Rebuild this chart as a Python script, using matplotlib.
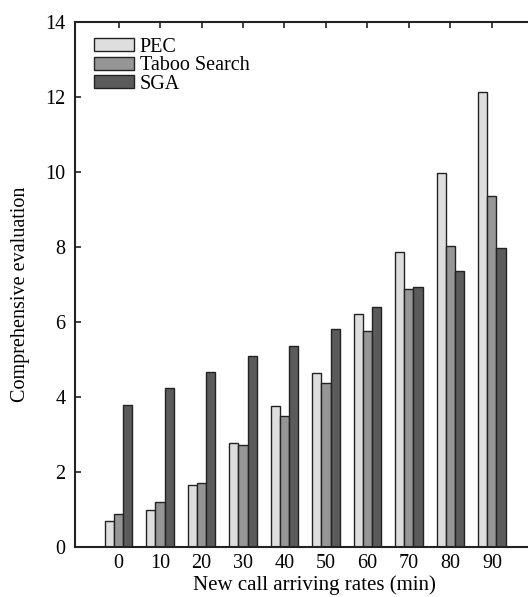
import numpy as np
import matplotlib.pyplot as plt

plt.rcParams['font.family'] = ['Liberation Serif', 'DejaVu Serif']

rates = [0, 10, 20, 30, 40, 50, 60, 70, 80, 90]
pec = [0.70, 0.99, 1.65, 2.76, 3.77, 4.65, 6.21, 7.87, 9.97, 12.14]
taboo = [0.87, 1.19, 1.71, 2.72, 3.50, 4.37, 5.77, 6.88, 8.03, 9.35]
sga = [3.79, 4.24, 4.66, 5.08, 5.36, 5.81, 6.39, 6.94, 7.36, 7.96]

fig = plt.figure(figsize=(5.28, 5.97), dpi=100)
ax = fig.add_axes([0.142, 0.084, 0.858, 0.879])

x = np.array(rates, dtype=float)
w = 2.2
series = [('PEC', pec, '#dedede'), ('Taboo Search', taboo, '#969696'), ('SGA', sga, '#5b5b5b')]
for i, (name, vals, col) in enumerate(series):
    ax.bar(x + (i - 1) * w, vals, width=w, color=col, edgecolor='#222222', linewidth=1.0, label=name)

ax.set_xlim(-10.5, 98.7)
ax.set_ylim(0, 14)
ax.set_xticks(rates)
ax.set_yticks(range(0, 15, 2))
ax.spines['right'].set_visible(False)
for s in ['left', 'bottom', 'top']:
    ax.spines[s].set_linewidth(1.5)
    ax.spines[s].set_color('#222222')
ax.tick_params(direction='in', top=True, right=False, labelsize=14.5, length=4, width=1.2, color='#222222')
ax.tick_params(axis='x', bottom=False, pad=5)
ax.tick_params(axis='y', pad=7)

ax.set_xlabel('New call arriving rates (min)', fontsize=15)
ax.xaxis.set_label_coords(0.528, -0.055, transform=ax.transAxes)
ax.xaxis.label.set_va('top')
ax.set_ylabel('Comprehensive evaluation', fontsize=14.5)
ax.yaxis.set_label_coords(-0.100, 0.482)

ax.legend(loc='upper left', frameon=False, fontsize=14.5, handlelength=2.0, handleheight=0.6,
          labelspacing=-0.02, handletextpad=0.3, borderaxespad=0.3, bbox_to_anchor=(0.01, 0.997))

fig.savefig('out.png', dpi=100)
